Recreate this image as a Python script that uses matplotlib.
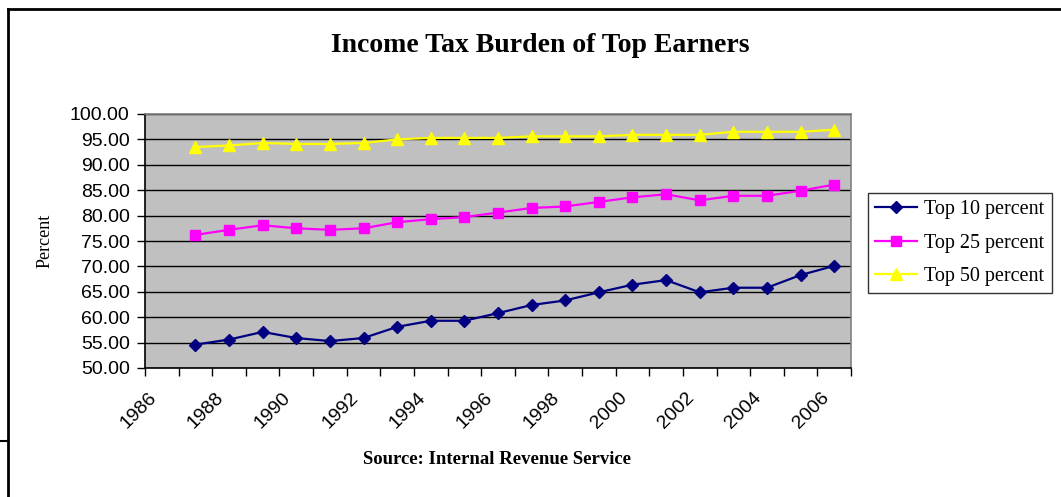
import matplotlib
matplotlib.use("Agg")
import matplotlib.pyplot as plt
from matplotlib.lines import Line2D
import matplotlib.transforms as mtransforms
import numpy as np

categories = [str(y) for y in range(1986, 2007)]
years = list(range(1987, 2007))
top10 = [54.6, 55.6, 57.1, 55.9, 55.3, 55.9, 58.1, 59.3, 59.3, 60.8,
         62.4, 63.3, 64.9, 66.4, 67.3, 64.9, 65.8, 65.8, 68.3, 70.1]
top25 = [76.2, 77.2, 78.1, 77.5, 77.2, 77.5, 78.7, 79.3, 79.7, 80.6,
         81.5, 81.8, 82.7, 83.6, 84.2, 83.0, 83.9, 83.9, 84.9, 86.1]
top50 = [93.5, 93.8, 94.3, 94.1, 94.1, 94.3, 95.0, 95.3, 95.3, 95.3,
         95.6, 95.6, 95.6, 95.9, 95.9, 95.9, 96.5, 96.5, 96.5, 96.9]
tick_labels = categories[::2]

W, H = 1061, 497
fig = plt.figure(figsize=(W / 100, H / 100), dpi=100)
fig.patch.set_facecolor("white")

ax = fig.add_axes([145 / W, 1 - 368 / H, (851 - 145) / W, (368 - 114) / H])
ax.set_facecolor("#C0C0C0")

pos = [categories.index(str(y)) for y in years]
ax.plot(pos, top10, color="#000080", marker="D", markersize=6.5, lw=1.6,
        label="Top 10 percent", zorder=3)
ax.plot(pos, top25, color="#FF00FF", marker="s", markersize=7, lw=1.6,
        label="Top 25 percent", zorder=3)
ax.plot(pos, top50, color="#FFFF00", marker="^", markersize=8.5, lw=1.6,
        label="Top 50 percent", zorder=3)

ax.set_xlim(-0.5, len(categories) - 0.5)
ax.set_ylim(50, 100)
yt = np.arange(50, 100.1, 5)
ax.set_yticks(yt)
ax.set_yticklabels([f"{v:.2f}" for v in yt], fontsize=14, family="Liberation Sans")
ax.yaxis.grid(True, color="black", lw=1.0)
ax.set_axisbelow(True)

ax.set_xticks(np.arange(-0.5, len(categories), 1.0))
ax.set_xticklabels([])
ax.set_xticks(np.arange(0, len(categories), 2), minor=True)
ax.set_xticklabels(tick_labels, minor=True, rotation=45, ha="right", va="top",
                   rotation_mode="anchor", fontsize=14, family="Liberation Sans")
ax.tick_params(axis="x", which="minor", length=0, pad=15)
ax.tick_params(axis="x", which="major", length=6, width=1, direction="out", color="black")
ax.tick_params(axis="y", length=6, width=1, direction="out", color="black", pad=5)
shift = mtransforms.ScaledTranslation(-14 / 100, 0, fig.dpi_scale_trans)
for lbl in ax.get_xticklabels(minor=True):
    lbl.set_transform(lbl.get_transform() + shift)

for s in ["top", "right"]:
    ax.spines[s].set_color("#808080")
    ax.spines[s].set_linewidth(1.2)
ax.spines["left"].set_color("black")
ax.spines["bottom"].set_color("black")
ax.spines["left"].set_linewidth(1.2)
ax.spines["bottom"].set_linewidth(1.2)

ax.set_ylabel("Percent", family="Liberation Serif", fontsize=13, labelpad=12)

fig.text(540 / W, 1 - 45 / H, "Income Tax Burden of Top Earners",
         ha="center", va="center", fontsize=20, fontweight="bold",
         family="Liberation Serif")
fig.text(497 / W, 1 - 460 / H, "Source: Internal Revenue Service",
         ha="center", va="center", fontsize=13.5, fontweight="bold",
         family="Liberation Serif")

leg = fig.legend(loc="upper left", bbox_to_anchor=(868 / W, 1 - 193 / H),
                 frameon=True, fancybox=False, edgecolor="black",
                 prop={"family": "Liberation Serif", "size": 14.5},
                 handlelength=2.1, borderaxespad=0, labelspacing=0.72,
                 handletextpad=0.35, borderpad=0.35)
leg.get_frame().set_linewidth(1.0)

# outer chart border (top and left) and small artifact
fig.add_artist(Line2D([8 / W, 1.0], [1 - 9 / H, 1 - 9 / H], color="black", lw=2))
fig.add_artist(Line2D([8 / W, 8 / W], [0, 1 - 9 / H], color="black", lw=2))
fig.add_artist(Line2D([0, 8 / W], [1 - 441 / H, 1 - 441 / H], color="black", lw=1.5))

fig.savefig("out.png", dpi=100)
